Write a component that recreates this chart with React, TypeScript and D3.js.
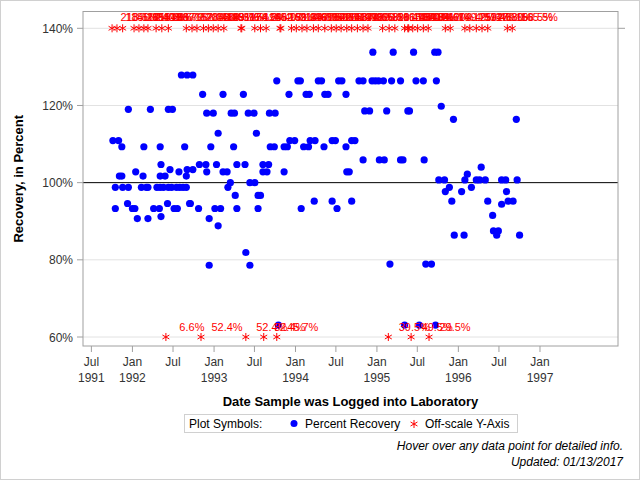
import React from 'react';
import * as d3 from 'd3';

// Percent recovery, grouped by level: [percent, decimal years of log date]
const recoveryRows: [number, number[]][] = [
  [133.8, [1994.95, 1995.2, 1995.45, 1995.71, 1995.75]],
  [127.9, [1992.6, 1992.67, 1992.74]],
  [126.4, [1993.77, 1994.03, 1994.06, 1994.28, 1994.32, 1994.53, 1994.57, 1994.78, 1994.83, 1994.94, 1994.98, 1995.02, 1995.08, 1995.18, 1995.29, 1995.48, 1995.57, 1995.73]],
  [122.9, [1992.86, 1993.11, 1993.36, 1993.92, 1994.13, 1994.17, 1994.36, 1994.4, 1994.62]],
  [119.8, [1995.79]],
  [119.0, [1991.95, 1992.22, 1992.44, 1992.49]],
  [118.6, [1994.85, 1994.91, 1995.12, 1995.38, 1995.4]],
  [118.0, [1992.91, 1992.99, 1993.21, 1993.25, 1993.42, 1993.49, 1993.68, 1993.75]],
  [116.4, [1995.94, 1996.71]],
  [112.8, [1993.05, 1993.52]],
  [110.9, [1991.76, 1991.83, 1993.93, 1993.99, 1994.18, 1994.24, 1994.45, 1994.49, 1994.69, 1994.73]],
  [109.3, [1991.87, 1992.14, 1992.34, 1992.64, 1992.96, 1993.24, 1993.69, 1993.74, 1993.86, 1993.9, 1994.1, 1994.16, 1994.35, 1994.62]],
  [105.9, [1994.83, 1995.03, 1995.09, 1995.29, 1995.32, 1995.58]],
  [104.7, [1992.35, 1992.82, 1992.9, 1993.03, 1993.28, 1993.38, 1993.6, 1993.67]],
  [104.0, [1996.28]],
  [103.4, [1992.46, 1992.67, 1992.74]],
  [102.8, [1992.04, 1992.57, 1992.91, 1993.11, 1993.16, 1993.6, 1993.65, 1993.86, 1994.63, 1994.66]],
  [102.2, [1996.11]],
  [101.7, [1991.84, 1991.87, 1992.13, 1992.34, 1992.4, 1992.66]],
  [100.7, [1995.76, 1995.83, 1996.08, 1996.22, 1996.26, 1996.33, 1996.53, 1996.58, 1996.72]],
  [100.0, [1993.2, 1993.44, 1993.5]],
  [98.8, [1991.79, 1991.88, 1991.95, 1992.11, 1992.17, 1992.19, 1992.3, 1992.34, 1992.38, 1992.44, 1992.48, 1992.54, 1992.58, 1992.62, 1992.66, 1993.17, 1995.89, 1996.16]],
  [97.7, [1995.84, 1996.04, 1996.59]],
  [96.7, [1993.26, 1993.54, 1993.57]],
  [95.2, [1994.23, 1994.45, 1994.69, 1995.92, 1996.36, 1996.61, 1996.67]],
  [94.6, [1991.94, 1992.43, 1992.7, 1992.71]],
  [94.4, [1996.53]],
  [93.3, [1991.79, 1992.0, 1992.03, 1992.26, 1992.33, 1992.51, 1992.55, 1992.81, 1993.01, 1993.08, 1993.28, 1993.54, 1994.07, 1994.51]],
  [91.5, [1996.42]],
  [91.2, [1992.35]],
  [90.7, [1992.06, 1992.19, 1992.94]],
  [88.8, [1993.05]],
  [87.5, [1996.43, 1996.49]],
  [86.4, [1995.95, 1996.07, 1996.47, 1996.75]],
  [81.9, [1993.39]],
  [78.9, [1995.16, 1995.6, 1995.67]],
  [78.6, [1992.94, 1993.44]],
  [63.1, [1993.79, 1995.34, 1995.52, 1995.72]],
];

// off-scale results, drawn on the 140% / 60% edge with their real value
const offscaleHigh: [number, string][] = [
  [1991.75, '213.5%'], [1991.81, '185.2%'], [1991.88, '146.8%'], [1992.02, '162.4%'],
  [1992.08, '171.0%'], [1992.14, '155.3%'], [1992.19, '240.9%'], [1992.29, '148.6%'],
  [1992.36, '193.7%'], [1992.44, '167.2%'], [1992.66, '152.0%'], [1992.73, '178.4%'],
  [1992.79, '205.1%'], [1992.87, '143.9%'], [1992.93, '160.5%'], [1992.99, '188.3%'],
  [1993.05, '149.7%'], [1993.12, '231.6%'], [1993.33, '174.8%'], [1993.34, '158.2%'],
  [1993.5, '196.4%'], [1993.57, '145.0%'], [1993.64, '182.7%'], [1993.81, '169.9%'],
  [1993.82, '151.3%'], [1993.95, '214.6%'], [1994.01, '163.8%'], [1994.08, '147.2%'],
  [1994.14, '190.5%'], [1994.22, '176.1%'], [1994.28, '156.6%'], [1994.36, '142.4%'],
  [1994.44, '201.3%'], [1994.5, '168.7%'], [1994.56, '153.9%'], [1994.63, '187.0%'],
  [1994.69, '144.6%'], [1994.76, '172.5%'], [1994.83, '159.8%'], [1994.89, '226.2%'],
  [1995.07, '150.4%'], [1995.15, '181.1%'], [1995.22, '165.3%'], [1995.34, '148.0%'],
  [1995.38, '197.9%'], [1995.39, '154.7%'], [1995.44, '170.2%'], [1995.5, '143.1%'],
  [1995.57, '184.6%'], [1995.63, '161.7%'], [1995.84, '209.4%'], [1995.9, '149.2%'],
  [1996.08, '175.6%'], [1996.14, '157.4%'], [1996.22, '192.8%'], [1996.29, '146.3%'],
  [1996.36, '179.0%'], [1996.6, '158.5%'], [1996.66, '165.5%'],
];

const offscaleLow: [number, string][] = [
  [1992.41, '6.6%'], [1992.84, '52.4%'], [1993.39, '52.4%'], [1993.61, '32.4%'],
  [1993.77, '45.7%'], [1995.14, '39.5%'], [1995.42, '49.5%'], [1995.64, '29.5%'],
];

const yTicks = [60, 80, 100, 120, 140];
const xDomain = [1991.393, 1997.958];
const xTickFirst = new Date(1991, 6, 1);
const xTickLast = new Date(1997, 0, 2);
const monthNames = ['Jan', 'Feb', 'Mar', 'Apr', 'May', 'Jun', 'Jul', 'Aug', 'Sep', 'Oct', 'Nov', 'Dec'];

const toDate = (y: number) => {
  const yr = Math.floor(y);
  const a = new Date(yr, 0, 1).getTime();
  const b = new Date(yr + 1, 0, 1).getTime();
  return new Date(a + (y - yr) * (b - a));
};

const FONT = '"Liberation Sans", Arial, sans-serif';

const App = () => {
  const width = 640;
  const height = 480;
  const frame = { left: 83, right: 618, top: 11.5, bottom: 346 };

  const x = d3.scaleTime()
    .domain([toDate(xDomain[0]), toDate(xDomain[1])])
    .range([frame.left, frame.right]);
  const y = d3.scaleLinear().domain([60, 140]).range([337, 28.3]);

  const xTicks = d3.timeMonth.every(6)!.range(xTickFirst, xTickLast);
  const points = recoveryRows.flatMap(([pct, years]) => years.map((yr) => ({ yr, pct })));
  const asterisk = d3.symbol(d3.symbolAsterisk, 45)()!;
  const labelDx = 27;

  return (
    <div style={{ position: 'absolute', left: 0, top: 0 }}>
      <svg width={width} height={height} style={{ display: 'block', fontFamily: FONT }}>
        <rect x={0.5} y={0.5} width={width - 1} height={height - 1} fill="white" stroke="#d0d0d0" />

        {/* grid */}
        {yTicks.filter((t) => t !== 100).map((t) => (
          <line key={t} x1={frame.left} x2={frame.right} y1={y(t)} y2={y(t)} stroke="#e2e2e2" />
        ))}
        <line x1={frame.right} x2={frame.right + 7} y1={y(140)} y2={y(140)} stroke="#a0a0a0" />
        <line x1={frame.left} x2={frame.right} y1={y(100)} y2={y(100)} stroke="black" />

        {/* frame */}
        <rect x={frame.left} y={frame.top} width={frame.right - frame.left} height={frame.bottom - frame.top}
          fill="none" stroke="#a0a0a0" />

        {/* y axis */}
        {yTicks.map((t) => (
          <g key={t}>
            <line x1={frame.left - 6} x2={frame.left} y1={y(t)} y2={y(t)} stroke="#a0a0a0" />
            <text x={frame.left - 10} y={y(t) + 4.5} textAnchor="end" fontSize={12} fill="#333">{t}%</text>
          </g>
        ))}
        <text transform={`translate(23,${(frame.top + frame.bottom) / 2}) rotate(-90)`} textAnchor="middle"
          fontSize={13} fontWeight="bold" fill="black">Recovery, in Percent</text>

        {/* x axis: year shown on January ticks and on the first tick */}
        {xTicks.map((d, i) => (
          <g key={d.getTime()}>
            <line x1={x(d)} x2={x(d)} y1={frame.bottom} y2={frame.bottom + 6} stroke="#a0a0a0" />
            <text x={x(d)} y={366} textAnchor="middle" fontSize={12} fill="#333">{monthNames[d.getMonth()]}</text>
            {(i === 0 || d.getMonth() === 0) && (
              <text x={x(d)} y={382} textAnchor="middle" fontSize={12} fill="#333">{d.getFullYear()}</text>
            )}
          </g>
        ))}
        <text x={(frame.left + frame.right) / 2} y={406} textAnchor="middle" fontSize={13} fontWeight="bold"
          fill="black">Date Sample was Logged into Laboratory</text>

        {/* percent recovery */}
        {points.map((p, i) => (
          <circle key={i} cx={x(toDate(p.yr))} cy={y(p.pct)} r={3.6} fill="#0000ff" />
        ))}

        {/* off-scale markers */}
        {offscaleHigh.map(([yr], i) => (
          <path key={'ha' + i} d={asterisk} transform={`translate(${x(toDate(yr))},${y(140)})`} fill="none" stroke="red" />
        ))}
        {offscaleHigh.map(([yr, lab], i) => (
          <text key={'hl' + i} x={x(toDate(yr)) + labelDx} y={y(140) - 7} textAnchor="middle" fontSize={11}
            fill="red">{lab}</text>
        ))}
        {offscaleLow.map(([yr], i) => (
          <path key={'la' + i} d={asterisk} transform={`translate(${x(toDate(yr))},${y(60)})`} fill="none" stroke="red" />
        ))}
        {offscaleLow.map(([yr, lab], i) => (
          <text key={'ll' + i} x={x(toDate(yr)) + labelDx - 1} y={y(60) - 6} textAnchor="middle" fontSize={11}
            fill="red">{lab}</text>
        ))}

        {/* legend */}
        <rect x={184.5} y={414.5} width={333} height={18} fill="white" stroke="#d0d0d0" />
        <text x={189} y={428} fontSize={12} fill="black">Plot Symbols:</text>
        <circle cx={294} cy={423.5} r={3.5} fill="#0000ff" />
        <text x={305} y={428} fontSize={12} fill="black">Percent Recovery</text>
        <path d={asterisk} transform="translate(414,424)" fill="none" stroke="red" />
        <text x={425} y={428} fontSize={12} fill="black">Off-scale Y-Axis</text>

        <text x={623} y={450} textAnchor="end" fontSize={12} fontStyle="italic" fill="black">
          Hover over any data point for detailed info.
        </text>
        <text x={623} y={466} textAnchor="end" fontSize={12} fontStyle="italic" fill="black">
          Updated: 01/13/2017
        </text>
      </svg>
    </div>
  );
};

export default App;
